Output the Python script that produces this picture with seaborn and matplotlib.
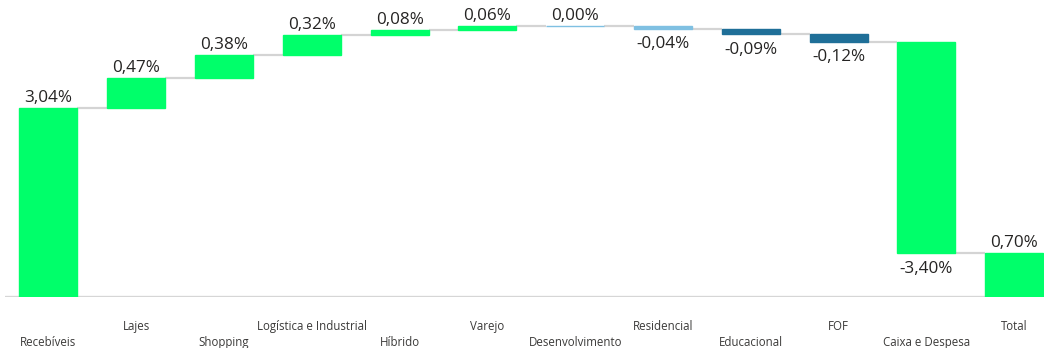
import numpy as np
import pandas as pd
import matplotlib
matplotlib.use("Agg")
import matplotlib.pyplot as plt
import seaborn as sns

# Contribution by segment (percentage points)
categories = ["Recebíveis", "Lajes", "Shopping", "Logística e Industrial", "Híbrido",
              "Varejo", "Desenvolvimento", "Residencial", "Educacional", "FOF",
              "Caixa e Despesa", "Total"]
values = [3.04, 0.47, 0.38, 0.32, 0.08, 0.06, 0.00, -0.04, -0.09, -0.12, -3.40, 0.70]
labels = ["3,04%", "0,47%", "0,38%", "0,32%", "0,08%", "0,06%", "0,00%",
          "-0,04%", "-0,09%", "-0,12%", "-3,40%", "0,70%"]

GREEN = "#00FF6A"
LIGHT_BLUE = "#7FC0E2"
DARK_BLUE = "#1F6F98"
bar_colors = [GREEN, GREEN, GREEN, GREEN, GREEN, GREEN, LIGHT_BLUE,
              LIGHT_BLUE, DARK_BLUE, DARK_BLUE, GREEN, GREEN]

sns.set_theme(style="white")
plt.rcParams["font.family"] = ["Open Sans", "DejaVu Sans"]

# Floating bar geometry: steps start where the previous one ended, total starts at zero
steps = np.array(values[:-1])
ends = np.cumsum(steps)
starts = np.concatenate([[0.0], ends[:-1]])
lows = np.concatenate([np.minimum(starts, ends), [0.0]])
highs = np.concatenate([np.maximum(starts, ends), [values[-1]]])
heights = highs - lows

df = pd.DataFrame({"categoria": categories, "altura": heights})

fig = plt.figure(figsize=(10.44, 3.48), dpi=100)
ax = fig.add_axes([5 / 1044, 51 / 348, 1039 / 1044, 297 / 348])

bar_w = 0.66
sns.barplot(data=df, x="categoria", y="altura", order=categories, bottom=lows,
            width=bar_w, color=GREEN, linewidth=0, ax=ax, zorder=3)
for patch, c in zip(ax.patches, bar_colors):
    patch.set_facecolor(c)
    patch.set_edgecolor(c)
    patch.set_linewidth(1.0)

# Connector lines between consecutive bars
levels = list(ends)
for i, lvl in enumerate(levels):
    ax.plot([i + bar_w / 2, i + 1 - bar_w / 2], [lvl, lvl], color="#D4D4D4",
            lw=1.6, zorder=2, solid_capstyle="butt")

# Baseline
ax.axhline(0, color="#D6D6D6", lw=2.4, zorder=1)

# Value labels: above for gains and total, below for losses
for i, (v, lab) in enumerate(zip(values, labels)):
    if v < 0 and i < len(values) - 1:
        ax.annotate(lab, (i, lows[i]), xytext=(0, -5.5), textcoords="offset points",
                    ha="center", va="top", fontsize=12.3, color="#252423", zorder=4)
    else:
        ax.annotate(lab, (i, highs[i]), xytext=(0, 1.5), textcoords="offset points",
                    ha="center", va="bottom", fontsize=12.3, color="#252423", zorder=4)

# Staggered category labels
ax.set_xticks(range(len(categories)))
ax.set_xticklabels([])
ax.tick_params(axis="x", length=0)
for i, cat in enumerate(categories):
    dy = -32.5 if i % 2 == 0 else -21
    ax.annotate(cat, (i, 0), xycoords=("data", "axes fraction"), xytext=(0, dy),
                textcoords="offset points", ha="center", va="center",
                fontsize=8.3, color="#3B3A39", annotation_clip=False)

ax.set_xlim(-0.495, 11.34)
ax.set_ylim(0, 4.77)
ax.set_yticks([])
ax.set_xlabel("")
ax.set_ylabel("")
sns.despine(ax=ax, left=True, bottom=True)

fig.savefig("out.png", dpi=100)
